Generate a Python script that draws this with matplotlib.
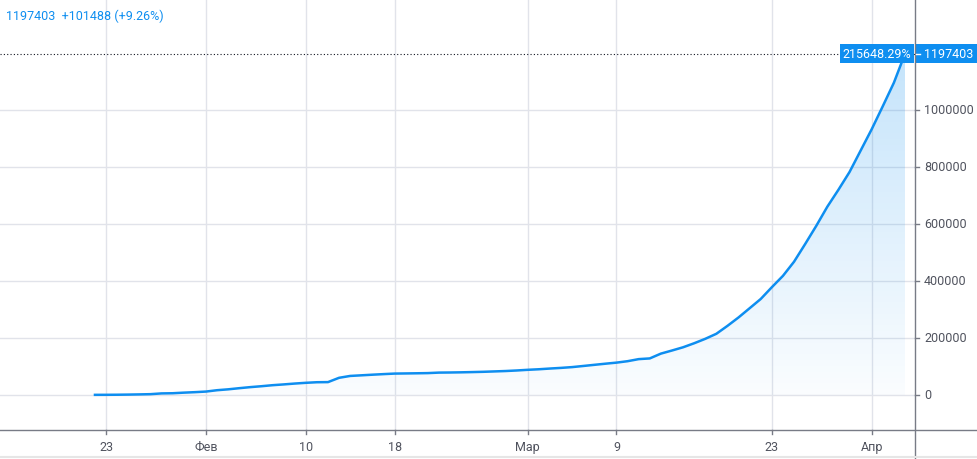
import matplotlib
matplotlib.use('Agg')
import matplotlib.pyplot as plt
import matplotlib.dates as mdates
from matplotlib.lines import Line2D
from matplotlib.patches import Polygon, Rectangle
import numpy as np
import pandas as pd

plt.rcParams['font.family'] = ['Roboto', 'DejaVu Sans']

# cumulative confirmed cases, one value per day
start_date = '2020-01-22'
cases = [555, 654, 941, 1434, 2118, 2927, 5578, 6166, 8234, 9927,
         12038, 16787, 19881, 23892, 27635, 30794, 34391, 37120, 40150, 42762,
         44802, 45221, 60368, 66885, 69030, 71224, 73258, 75136, 75639, 76197,
         76819, 78572, 78958, 79561, 80406, 81388, 82746, 84112, 86011, 88369,
         90306, 92840, 95120, 97886, 101801, 105847, 109821, 113590, 118620, 125875,
         128352, 145205, 156101, 167454, 181574, 197102, 214821, 242570, 272208, 304507,
         336953, 378231, 418041, 467653, 529591, 593291, 660706, 720117, 782365, 857487,
         932605, 1013466, 1095917, 1197403]
dates = pd.date_range(start_date, periods=len(cases), freq='D')

xtick_dates = ['2020-01-23', '2020-02-01', '2020-02-10', '2020-02-18',
               '2020-03-01', '2020-03-09', '2020-03-23', '2020-04-01']
xtick_labels = ['23', 'Фев', '10', '18', 'Мар', '9', '23', 'Апр']
yticks = [0, 200000, 400000, 600000, 800000, 1000000]

header_text = '1197403  +101488 (+9.26%)'
pct_label = '215648.29%'
last_label = '1197403'

blue = '#0e8ef0'
grid_c = '#e1e3ea'
axis_c = '#787b86'
text_c = '#50535e'
fs = 9

W, H = 977, 460
fig = plt.figure(figsize=(W / 100, H / 100), dpi=100)
ax_right = 915 / W
ax_bottom = (H - 431) / H
ax = fig.add_axes([0, ax_bottom, ax_right, 1 - ax_bottom])

x = mdates.date2num(dates)
y = np.array(cases, dtype=float)

px_per_day = 11.1
x0 = x[0] - 95 / px_per_day
x1 = x[-1] + 10 / px_per_day
ax.set_xlim(x0, x1)
px_per_val = 285 / 1e6
ax.set_ylim(-35 / px_per_val, 396 / px_per_val)

# gradient fill under the line
grad = np.linspace(0, 1, 256).reshape(-1, 1)
cmap = matplotlib.colors.LinearSegmentedColormap.from_list(
    'g', [(0.08, 0.57, 0.94, 0.02), (0.08, 0.57, 0.94, 0.25)])
im = ax.imshow(grad, extent=[x[0], x[-1], 0, y.max()], origin='lower',
               aspect='auto', cmap=cmap, zorder=1)
poly = Polygon(np.column_stack([np.r_[x, x[-1], x[0]], np.r_[y, 0, 0]]),
               closed=True, transform=ax.transData, facecolor='none', edgecolor='none')
ax.add_patch(poly)
im.set_clip_path(poly)

ax.plot(x, y, color=blue, lw=1.8, zorder=3, solid_joinstyle='round')

# grid
for d in xtick_dates:
    ax.axvline(mdates.date2num(pd.Timestamp(d)), color=grid_c, lw=1, zorder=0)
for v in yticks:
    ax.axhline(v, color=grid_c, lw=1, zorder=0)

# last value dotted line
ax.axhline(y[-1], color='#131722', lw=0.8, ls=(0, (1, 2)), zorder=2)

ax.set_xticks([])
ax.set_yticks([])
for s in ax.spines.values():
    s.set_visible(False)

# axes lines crossing the whole figure
fig.add_artist(Line2D([0, 1], [ax_bottom, ax_bottom], color=axis_c, lw=1))
fig.add_artist(Line2D([ax_right, ax_right], [0, 1], color=axis_c, lw=1))
fig.add_artist(Line2D([0, 1], [2 / H, 2 / H], color='#e6e6e6', lw=1.5))

# x tick labels
trans_x = matplotlib.transforms.blended_transform_factory(ax.transData, fig.transFigure)
for d, lab in zip(xtick_dates, xtick_labels):
    xv = mdates.date2num(pd.Timestamp(d))
    fig.add_artist(Line2D([xv, xv], [ax_bottom, ax_bottom - 4 / H], color=axis_c,
                          lw=1, transform=trans_x))
    fig.text(xv, (H - 448) / H, lab, transform=trans_x, ha='center', va='center',
             fontsize=fs, color=text_c)

# y tick labels on the right
trans_y = matplotlib.transforms.blended_transform_factory(fig.transFigure, ax.transData)
for v in yticks:
    fig.add_artist(Line2D([ax_right, ax_right + 4 / W], [v, v], color=axis_c,
                          lw=1, transform=trans_y))
    fig.text(924 / W, v, str(v), transform=trans_y, ha='left', va='center',
             fontsize=fs, color=text_c)

# value labels
box_h = 19 / px_per_val
fig.add_artist(Rectangle((840 / W, y[-1] - box_h / 2), 74 / W, box_h, transform=trans_y,
                         facecolor=blue, edgecolor='none'))
fig.add_artist(Rectangle((916 / W, y[-1] - box_h / 2), 61 / W, box_h, transform=trans_y,
                         facecolor=blue, edgecolor='none'))
fig.add_artist(Line2D([ax_right + 1 / W, ax_right + 5 / W], [y[-1], y[-1]], color='white',
                      lw=1, transform=trans_y))
fig.text(877 / W, y[-1], pct_label, transform=trans_y, ha='center', va='center',
         fontsize=fs, color='white')
fig.text(924 / W, y[-1], last_label, transform=trans_y, ha='left', va='center',
         fontsize=fs, color='white')

fig.text(6 / W, 1 - 16 / H, header_text, ha='left', va='center', fontsize=fs, color=blue)

fig.savefig('out.png', dpi=100)
